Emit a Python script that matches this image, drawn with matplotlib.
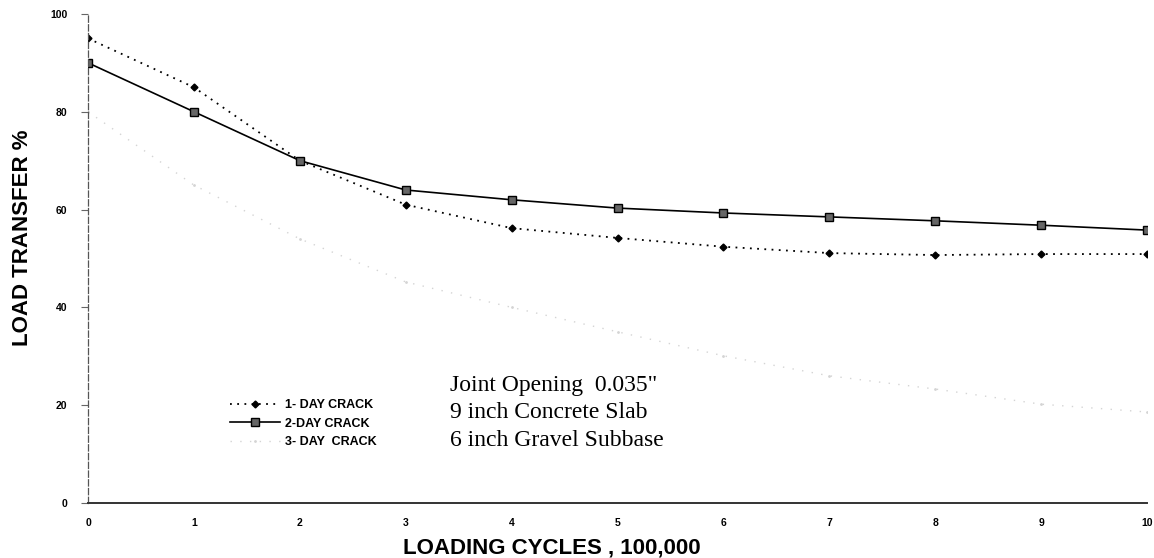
import matplotlib
matplotlib.use("Agg")
import matplotlib.pyplot as plt

# loading cycles (x 100,000)
cycles = [0, 1, 2, 3, 4, 5, 6, 7, 8, 9, 10]

# load transfer %
day1_crack = [95, 85, 70, 61, 56.2, 54.2, 52.4, 51.1, 50.7, 50.9, 50.9]
day2_crack = [90, 80, 70, 64, 62, 60.3, 59.3, 58.5, 57.7, 56.8, 55.8]
day3_crack = [80, 65, 54, 45.2, 40, 35, 30.1, 26, 23.3, 20.2, 18.6]

series_labels = ["1- DAY CRACK", "2-DAY CRACK", "3- DAY  CRACK"]
y_ticks = [0, 20, 40, 60, 80, 100]
note_lines = ["Joint Opening  0.035\"", "9 inch Concrete Slab", "6 inch Gravel Subbase"]

plt.rcParams["font.family"] = ["Liberation Sans", "DejaVu Sans"]

fig = plt.figure(figsize=(11.54, 5.58), dpi=100)
ax = fig.add_axes([0.0763, 0.0986, 0.9177, 0.8764])

ax.plot(cycles, day1_crack, color="black", linestyle=(0, (1, 3)), linewidth=1.3,
        marker="D", markersize=3.5, markerfacecolor="black", markeredgecolor="black",
        label=series_labels[0])
ax.plot(cycles, day2_crack, color="black", linestyle="-", linewidth=1.2,
        marker="s", markersize=6, markerfacecolor="#666666", markeredgecolor="black",
        markeredgewidth=1.0, label=series_labels[1])
# the 3-day curve is barely visible in the scan
ax.plot(cycles, day3_crack, color="#d4d4d4", linestyle=(0, (1, 6)), linewidth=1.0,
        marker=".", markersize=2, label=series_labels[2])

ax.set_xlim(0, 10)
ax.set_ylim(0, 100)
ax.set_xticks(cycles)
ax.set_yticks(y_ticks)
ax.tick_params(axis="x", length=0, pad=11, labelsize=7.5)
ax.tick_params(axis="y", length=5, width=0.8, pad=10, labelsize=7.5, color="#666666")
for lbl in ax.get_xticklabels() + ax.get_yticklabels():
    lbl.set_fontweight("bold")

for side in ["top", "right"]:
    ax.spines[side].set_visible(False)
ax.spines["left"].set_linestyle((0, (5, 2)))
ax.spines["left"].set_color("#555555")
ax.spines["left"].set_linewidth(0.9)
ax.spines["bottom"].set_color("#333333")
ax.spines["bottom"].set_linewidth(1.4)

# axis titles sit off-centre in the scan, so place them on the figure
fig.text(552 / 1154, 1 - 548 / 558, "LOADING CYCLES , 100,000", fontsize=16,
         fontweight="bold", ha="center", va="center")
fig.text(23 / 1154, 1 - 238 / 558, "LOAD TRANSFER %", fontsize=16,
         fontweight="bold", ha="center", va="center", rotation=90)

leg = fig.legend(loc="upper left", bbox_to_anchor=(0.199, 1 - 399 / 558), frameon=False,
                 fontsize=9, handlelength=4.0, handletextpad=0.4, labelspacing=0.53,
                 borderpad=0, borderaxespad=0)
for t in leg.get_texts():
    t.set_fontweight("bold")

for i, line in enumerate(note_lines):
    fig.text(450 / 1154, 1 - (385 + 27.5 * i) / 558, line, fontsize=17,
             family=["Liberation Serif", "DejaVu Serif"], va="center", ha="left")

fig.savefig("out.png", dpi=100)
